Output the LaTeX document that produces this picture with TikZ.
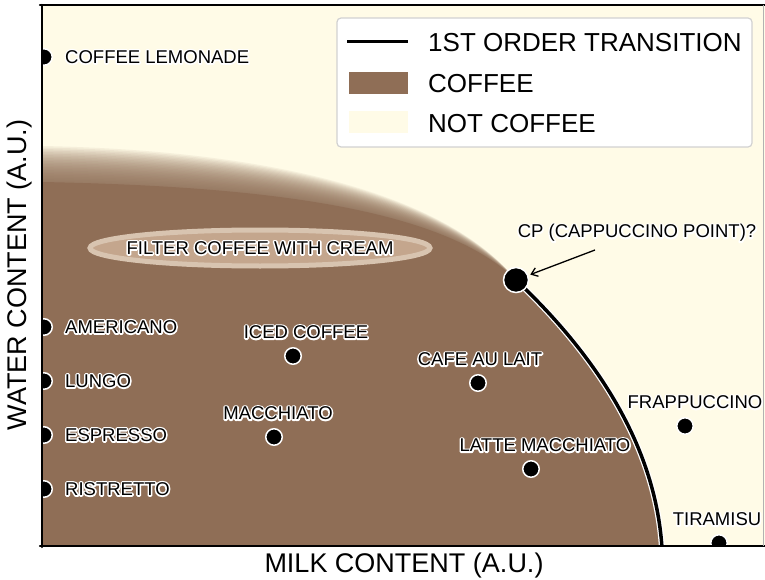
\documentclass[tikz,border=0pt]{standalone}
\usepackage{fontspec}
\setmainfont{Liberation Sans}
\usepackage{tikz}
\usetikzlibrary{positioning,arrows.meta,shapes.geometric}
\definecolor{coffee}{RGB}{143,110,86}
\definecolor{notcoffee}{RGB}{255,251,231}
\definecolor{creamring}{RGB}{216,196,176}
\definecolor{creamfill}{RGB}{196,166,141}
% white stroked copy behind the text
\newcommand{\halo}[1]{\leavevmode\rlap{\special{pdf:literal direct 1 Tr 3.2 w 1 1 1 RG 1 j}#1\special{pdf:literal direct 0 Tr}}#1}
\newcommand{\coffeearea}[1]{(42,560) -- (42,{182-#1}) .. controls (250,{186-#1}) and (440,{205-0.5*#1}) .. (516,280) .. controls (590,350) and (655,440) .. (662,560) -- cycle}
\tikzset{
  axis/.style={line width=2.5pt, line cap=round},
  drink/.style={circle, fill=black, draw=white, line width=1.5pt, inner sep=0pt, minimum size=16.5pt},
  cpdot/.style={drink, minimum size=25pt},
  lbl/.style={inner sep=1pt, font=\fontsize{18.5}{18.5}\selectfont},
  leglbl/.style={inner sep=0pt, anchor=west, font=\fontsize{26}{26}\selectfont},
  axislbl/.style={inner sep=0pt, font=\fontsize{27}{27}\selectfont},
  transline/.style={line width=3.5pt, preaction={draw=white, line width=6pt}},
  cparrow/.style={-{Straight Barb[length=6pt,width=9pt]}, line width=1.3pt, shorten >=2pt},
  filterblob/.style={ellipse, draw=creamring, fill=creamfill, line width=5pt, minimum width=340pt, minimum height=36pt, inner xsep=-60pt, inner ysep=0pt, font=\fontsize{18.5}{18.5}\selectfont},
  legendbox/.style={draw=black!18, fill=white, rounded corners=4pt, line width=1.2pt, minimum width=415pt, minimum height=129pt}
}

\begin{document}
\begin{tikzpicture}[x=1pt, y=-1pt]
  \useasboundingbox (0,0) rectangle (765,580);
  \fill[notcoffee] (42,5) rectangle (765,546);

  \begin{scope}
    \clip (43,6) rectangle (765,545);
    % fuzzy top edge of the coffee phase
    \foreach \k in {1,...,24}
      \fill[coffee, opacity=0.08] \coffeearea{1.5*\k};
    \fill[coffee] \coffeearea{0};
    \node[filterblob] (filter) at (260,248) {\halo{FILTER COFFEE WITH CREAM}};

    \coordinate (cpc) at (516,280);
    \coordinate (trend) at (662,548);
    \draw[transline] (cpc) .. controls (590,350) and (655,440) .. (trend);

    \node[drink] (lemonade) at (44,57) {};
    \node[drink] (americano) at (44,327) {};
    \node[drink] (lungo) at (44,381) {};
    \node[drink] (espresso) at (44,435) {};
    \node[drink] (ristretto) at (44,489) {};
    \node[drink] (iced) at (293,356) {};
    \node[drink] (macchiato) at (274,437) {};
    \node[drink] (aulait) at (478,383) {};
    \node[drink] (latte) at (531,469) {};
    \node[drink] (frappe) at (685,426) {};
    \node[drink] (tiramisu) at (719,543) {};
    \node[cpdot] (cp) at (cpc) {};
  \end{scope}

  \node[lbl, right=11pt of lemonade] (lemonadelbl) {\halo{COFFEE LEMONADE}};
  \node[lbl, right=11pt of americano] (americanolbl) {\halo{AMERICANO}};
  \node[lbl, right=11pt of lungo] (lungolbl) {\halo{LUNGO}};
  \node[lbl, right=11pt of espresso] (espressolbl) {\halo{ESPRESSO}};
  \node[lbl, right=11pt of ristretto] (ristrettolbl) {\halo{RISTRETTO}};
  \node[lbl, above=7pt of iced, xshift=13pt] (icedlbl) {\halo{ICED COFFEE}};
  \node[lbl, above=7pt of macchiato, xshift=4pt] (macchiatolbl) {\halo{MACCHIATO}};
  \node[lbl, above=7pt of aulait, xshift=2pt] (aulaitlbl) {\halo{CAFE AU LAIT}};
  \node[lbl, above=7pt of latte, xshift=14pt] (lattelbl) {\halo{LATTE MACCHIATO}};
  \node[lbl, above=7pt of frappe, xshift=10pt] (frappelbl) {\halo{FRAPPUCCINO}};
  \node[lbl, above=7pt of tiramisu, xshift=-2pt] (tiramisulbl) {\halo{TIRAMISU}};
  \node[lbl] (cplbl) at (637,233) {\halo{CP (CAPPUCCINO POINT)?}};
  \coordinate (cptail) at (595,250);
  \draw[cparrow] (cptail) -- (cp);

  % legend
  \node[legendbox] (legend) at (544.5,82.5) {};
  \draw[line width=3pt] (347,42) -- (408,42);
  \fill[coffee] (349,72) rectangle (408,94);
  \fill[notcoffee] (349,111) rectangle (408,133);
  \node[leglbl] (legtrans) at (428,43) {1ST ORDER TRANSITION};
  \node[leglbl] (legcoffee) at (428,84) {COFFEE};
  \node[leglbl] (legnot) at (428,124) {NOT COFFEE};

  % axes
  \draw[axis] (40,5) -- (765,5);
  \draw[axis] (42,5) -- (42,547);
  \draw[axis] (40,546) -- (765,546);
  \draw[black!30, line width=1pt] (763,5) -- (763,546);
  \node[axislbl] (xlbl) at (404,566) {MILK CONTENT (A.U.)};
  \node[axislbl, rotate=90] (ylbl) at (20,275) {WATER CONTENT (A.U.)};
\end{tikzpicture}
\end{document}
